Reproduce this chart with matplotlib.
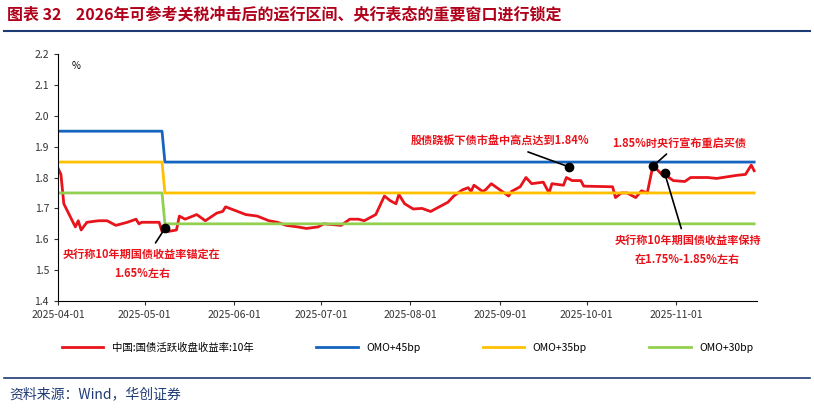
import matplotlib
matplotlib.use("Agg")
import matplotlib.pyplot as plt
import matplotlib.dates as mdates
import pandas as pd

plt.rcParams['font.family'] = ['Noto Sans CJK SC', 'DejaVu Sans']

dates = ["2025-04-01","2025-04-02","2025-04-03","2025-04-07","2025-04-08","2025-04-09","2025-04-11",
         "2025-04-15","2025-04-18","2025-04-21","2025-04-23","2025-04-25","2025-04-28","2025-04-29",
         "2025-04-30","2025-05-06","2025-05-07","2025-05-09","2025-05-12","2025-05-13","2025-05-15",
         "2025-05-19","2025-05-22","2025-05-26","2025-05-28","2025-05-29","2025-06-05","2025-06-09",
         "2025-06-13","2025-06-16","2025-06-19","2025-06-23","2025-06-26","2025-06-30","2025-07-02",
         "2025-07-08","2025-07-11","2025-07-14","2025-07-16","2025-07-20","2025-07-23","2025-07-25",
         "2025-07-27","2025-07-28","2025-07-30","2025-08-02","2025-08-05","2025-08-08","2025-08-14",
         "2025-08-16","2025-08-19","2025-08-21","2025-08-22","2025-08-23","2025-08-26","2025-08-27",
         "2025-08-29","2025-09-01","2025-09-04","2025-09-05","2025-09-08","2025-09-10","2025-09-12",
         "2025-09-16","2025-09-18","2025-09-19","2025-09-23","2025-09-24","2025-09-26","2025-09-29",
         "2025-09-30","2025-10-10","2025-10-11","2025-10-13","2025-10-15","2025-10-18","2025-10-20",
         "2025-10-22","2025-10-24","2025-10-27","2025-10-28","2025-10-31","2025-11-04","2025-11-06",
         "2025-11-12","2025-11-15","2025-11-22","2025-11-25","2025-11-27","2025-11-28"]
yield10y = [1.83,1.81,1.715,1.64,1.66,1.63,1.655,
            1.66,1.66,1.645,1.65,1.655,1.665,1.65,
            1.655,1.655,1.625,1.625,1.63,1.675,1.665,
            1.68,1.66,1.685,1.69,1.705,1.68,1.675,
            1.66,1.655,1.645,1.64,1.635,1.64,1.65,
            1.645,1.665,1.665,1.66,1.68,1.74,1.725,
            1.715,1.745,1.715,1.698,1.70,1.69,1.72,
            1.74,1.76,1.767,1.755,1.775,1.755,1.76,
            1.78,1.76,1.74,1.755,1.77,1.80,1.78,
            1.785,1.75,1.78,1.775,1.80,1.79,1.79,
            1.772,1.77,1.735,1.75,1.75,1.735,1.757,
            1.75,1.84,1.81,1.81,1.79,1.787,1.80,
            1.80,1.797,1.807,1.81,1.84,1.822]

omo_dates = ["2025-04-01","2025-05-07","2025-05-08","2025-11-28"]
omo45 = [1.95,1.95,1.85,1.85]
omo35 = [1.85,1.85,1.75,1.75]
omo30 = [1.75,1.75,1.65,1.65]

red = "#e8141c"
d = pd.to_datetime(dates)
od = pd.to_datetime(omo_dates)

fig = plt.figure(figsize=(8.14,4.09), dpi=100)
ax = fig.add_axes([0.0713,0.264,0.8587,0.604])
ax.plot(d, yield10y, color=red, lw=2, label="中国:国债活跃收盘收益率:10年")
ax.plot(od, omo45, color="#1565c0", lw=2, label="OMO+45bp")
ax.plot(od, omo35, color="#ffc000", lw=2, label="OMO+35bp")
ax.plot(od, omo30, color="#92d050", lw=2, label="OMO+30bp")

ax.set_ylim(1.4,2.2)
ax.set_yticks([1.4+0.1*i for i in range(9)])
ax.yaxis.set_major_formatter(plt.FormatStrFormatter('%.1f'))
ax.set_xlim(pd.Timestamp("2025-04-01"), pd.Timestamp("2025-11-29"))
ax.set_xticks(pd.to_datetime(["2025-04-01","2025-05-01","2025-06-01","2025-07-01","2025-08-01","2025-09-01","2025-10-01","2025-11-01"]))
ax.xaxis.set_major_formatter(mdates.DateFormatter("%Y-%m-%d"))
ax.tick_params(labelsize=7.5, colors="#333333", length=3)
for s in ["top","right"]:
    ax.spines[s].set_visible(False)
ax.text(0.02,0.97,"%",transform=ax.transAxes,fontsize=7,va="top")

def ann(pt, val, txt, tx, ty, ha="center"):
    p = pd.Timestamp(pt)
    ax.plot([p],[val],'o',color="black",ms=6,zorder=5)
    ax.annotate(txt, xy=(p,val), xytext=(pd.Timestamp(tx),ty), color=red, fontsize=8,
                fontweight="bold", ha=ha, va="center", linespacing=1.6,
                arrowprops=dict(arrowstyle="-", color="black", lw=1.2))

ann("2025-05-08",1.635,"央行称10年期国债收益率锚定在\n1.65%左右","2025-04-30",1.52)
ann("2025-09-25",1.834,"股债跷板下债市盘中高点达到1.84%","2025-09-01",1.916)
ann("2025-10-24",1.837,"1.85%时央行宣布重启买债","2025-11-02",1.912)
ann("2025-10-28",1.815,"央行称10年期国债收益率保持\n在1.75%-1.85%左右","2025-11-05",1.565)

ax.legend(loc="upper center", bbox_to_anchor=(0.5,-0.13), ncol=4, frameon=False,
          fontsize=7.5, handlelength=4, columnspacing=6)

fig.text(0.008,0.965,"图表 32    2026年可参考关税冲击后的运行区间、央行表态的重要窗口进行锁定",
         fontsize=11.5, fontweight="bold", color="#b0001a", va="center")
fig.add_artist(plt.Line2D([0.005,0.995],[0.925,0.925],color="#1f3b73",lw=1.5))
fig.add_artist(plt.Line2D([0.005,0.995],[0.075,0.075],color="#1f3b73",lw=1.2))
fig.text(0.012,0.035,"资料来源：Wind，华创证券",fontsize=10,style="italic",color="#1f3b73",va="center")

fig.savefig("out.png", dpi=100)
